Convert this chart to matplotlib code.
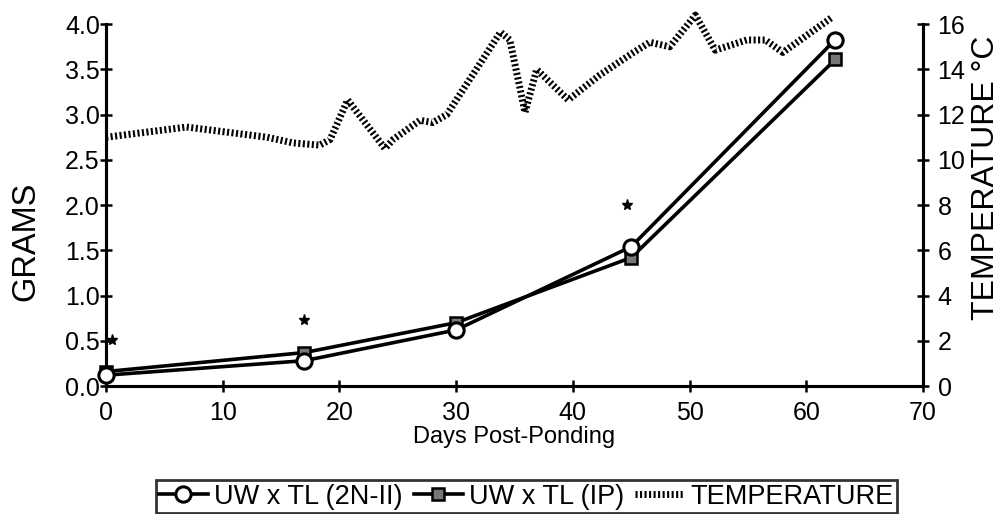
import matplotlib
matplotlib.use("Agg")
import matplotlib.pyplot as plt
from matplotlib.lines import Line2D

plt.rcParams['font.family'] = ['Liberation Sans', 'DejaVu Sans']

# Growth data (grams)
days = [0, 17, 30, 45, 62.5]
grams_2n = [0.12, 0.28, 0.62, 1.54, 3.83]
grams_ip = [0.16, 0.37, 0.70, 1.42, 3.61]

# significance stars
star_days = [0.5, 17, 44.6]
star_vals = [0.51, 0.73, 2.0]

# Temperature (deg C)
temp_days = [0, 6.9, 13.8, 16.0, 18.3, 19.2, 20.7, 23.9, 24.6, 26.9, 28.0, 29.2,
             33.8, 34.6, 35.9, 36.9, 39.6, 42.3, 45.2, 46.6, 48.3, 50.5, 52.2,
             54.9, 56.5, 58.0, 62.2]
temp_vals = [11.0, 11.45, 11.0, 10.75, 10.65, 10.9, 12.65, 10.5, 10.9, 11.75, 11.65, 12.0,
             15.65, 15.3, 12.1, 14.0, 12.65, 13.75, 14.75, 15.2, 15.0, 16.4, 14.85,
             15.3, 15.3, 14.75, 16.3]

xticks = [0, 10, 20, 30, 40, 50, 60, 70]
yticks = [0.0, 0.5, 1.0, 1.5, 2.0, 2.5, 3.0, 3.5, 4.0]
tticks = [0, 2, 4, 6, 8, 10, 12, 14, 16]

fig = plt.figure(figsize=(10.01, 5.14), dpi=100)
ax = fig.add_axes([0.106, 0.249, 0.816, 0.704])
ax2 = ax.twinx()

# temperature hatched line
temp_style = dict(color='black', lw=5.0, ls=(0, (0.3, 0.35)), solid_capstyle='butt',
                  dash_capstyle='butt')
ax2.plot(temp_days, temp_vals, clip_on=False, **temp_style)
ax2.set_ylim(0, 16)
ax2.set_yticks(tticks)
ax2.set_yticklabels([str(t) for t in tticks])

ax.plot(days, grams_2n, color='black', lw=2.6, marker='o', ms=11,
        mfc='white', mec='black', mew=2.2, zorder=5, clip_on=False)
ax.plot(days, grams_ip, color='black', lw=2.6, marker='s', ms=9,
        mfc='#777777', mec='black', mew=1.8, zorder=4, clip_on=False)
ax.plot(star_days, star_vals, ls='none', marker='*', ms=8, color='black', clip_on=False)

ax.set_zorder(ax2.get_zorder() + 1)
ax.patch.set_visible(False)

ax.set_xlim(0, 70)
ax.set_ylim(0, 4.0)
ax.set_xticks(xticks)
ax.set_yticks(yticks)
ax.set_yticklabels([f"{v:.1f}" for v in yticks])

for a in (ax, ax2):
    a.spines['top'].set_visible(False)
    for s in a.spines.values():
        s.set_linewidth(2.2)
    a.tick_params(direction='inout', length=9, width=1.8, labelsize=18)

ax.tick_params(axis='y', pad=0)
ax2.tick_params(axis='y', pad=6)
ax.tick_params(axis='x', pad=6)

ax.set_xlabel('Days Post-Ponding', fontsize=17, labelpad=1)
ax.set_ylabel('GRAMS', fontsize=23.5)
ax.yaxis.set_label_coords(-0.079, 0.40)
ax2.set_ylabel('TEMPERATURE °C', fontsize=23)
ax2.yaxis.set_label_coords(1.059, 0.575)

handles = [
    Line2D([], [], color='black', lw=2.6, marker='o', ms=11, mfc='white', mec='black', mew=2.2),
    Line2D([], [], color='black', lw=2.6, marker='s', ms=9, mfc='#777777', mec='black', mew=1.8),
    Line2D([], [], **temp_style),
]
labels = ['UW x TL (2N-II)', 'UW x TL (IP)', 'TEMPERATURE']
leg = fig.legend(handles, labels, loc='center', bbox_to_anchor=(0.526, 0.034), ncol=3,
                 fontsize=19.5, frameon=True, fancybox=False, edgecolor='black',
                 handlelength=1.8, handletextpad=0.25, columnspacing=0.4,
                 borderpad=0.12, borderaxespad=0)
leg.get_frame().set_linewidth(2.0)

fig.savefig('out.png', dpi=100)
